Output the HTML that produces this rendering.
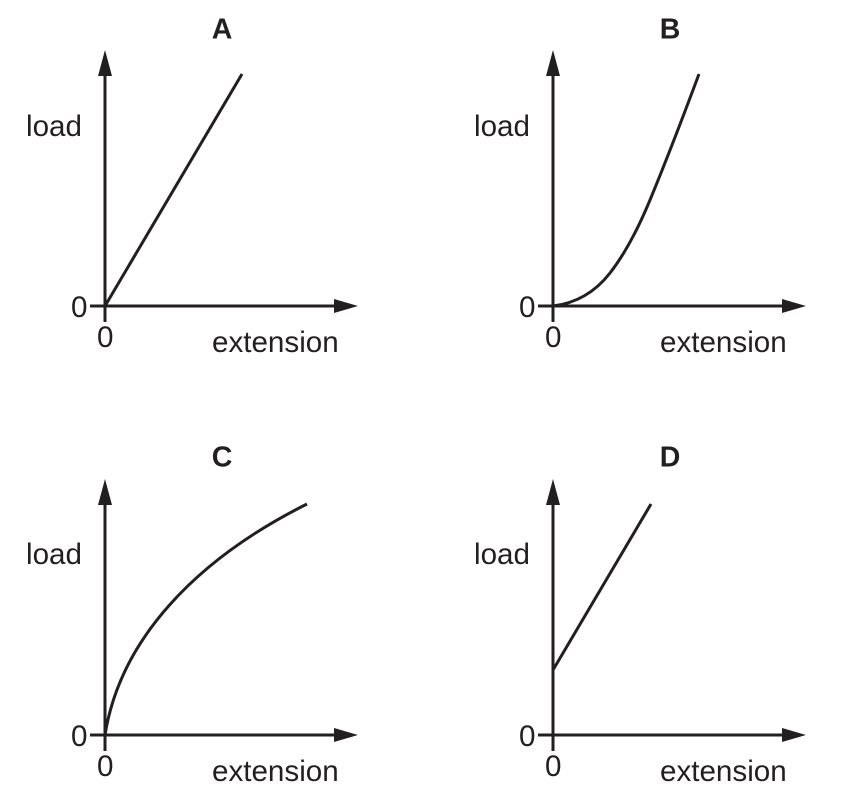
<!DOCTYPE html>
<html>
<head>
<meta charset="utf-8">
<style>
html,body{margin:0;padding:0;background:#fff;width:857px;height:800px;overflow:hidden}
svg{display:block}
text{font-family:"Liberation Sans",sans-serif;fill:#231f20;font-size:29.6px}
.t{font-weight:bold;font-size:28.5px;text-anchor:middle}
.l{fill:none;stroke:#231f20;stroke-width:3}
.a{fill:#231f20}
</style>
</head>
<body>
<svg width="857" height="800" viewBox="0 0 857 800" xmlns="http://www.w3.org/2000/svg">
<rect width="857" height="800" fill="#fff"/>

<!-- A -->
<text class="t" x="222" y="38.500">A</text>
<path class="l" d="M105 70V322M90 306H340"/>
<polygon class="a" points="105,50 98,76 112,76"/>
<polygon class="a" points="358,306 334,299 334,313"/>
<path class="l" d="M105 306L242 74"/>
<text x="26" y="136">load</text>
<text x="71" y="317">0</text>
<text x="97" y="347">0</text>
<text x="212" y="352">extension</text>

<!-- B -->
<text class="t" x="670" y="38.500">B</text>
<path class="l" d="M553 70V322M538 306H788"/>
<polygon class="a" points="553,50 546,76 560,76"/>
<polygon class="a" points="806,306 782,299 782,313"/>
<path class="l" d="M553 306C578 303 596 291 610 273C624 255 638 229 650 200C662 171 680 125 699 74"/>
<text x="474" y="136">load</text>
<text x="519" y="317">0</text>
<text x="545" y="347">0</text>
<text x="660" y="352">extension</text>

<!-- C -->
<text class="t" x="222" y="466.500">C</text>
<path class="l" d="M105 499V751M90 735H340"/>
<polygon class="a" points="105,479 98,505 112,505"/>
<polygon class="a" points="358,735 334,728 334,742"/>
<path class="l" d="M105 735C120 640 195 560 307 504"/>
<text x="26" y="564">load</text>
<text x="71" y="746">0</text>
<text x="97" y="776">0</text>
<text x="212" y="781">extension</text>

<!-- D -->
<text class="t" x="670" y="466.500">D</text>
<path class="l" d="M553 499V751M538 735H788"/>
<polygon class="a" points="553,479 546,505 560,505"/>
<polygon class="a" points="806,735 782,728 782,742"/>
<path class="l" d="M553 670L651 504"/>
<text x="474" y="564">load</text>
<text x="519" y="746">0</text>
<text x="545" y="776">0</text>
<text x="660" y="781">extension</text>
</svg>
</body>
</html>
